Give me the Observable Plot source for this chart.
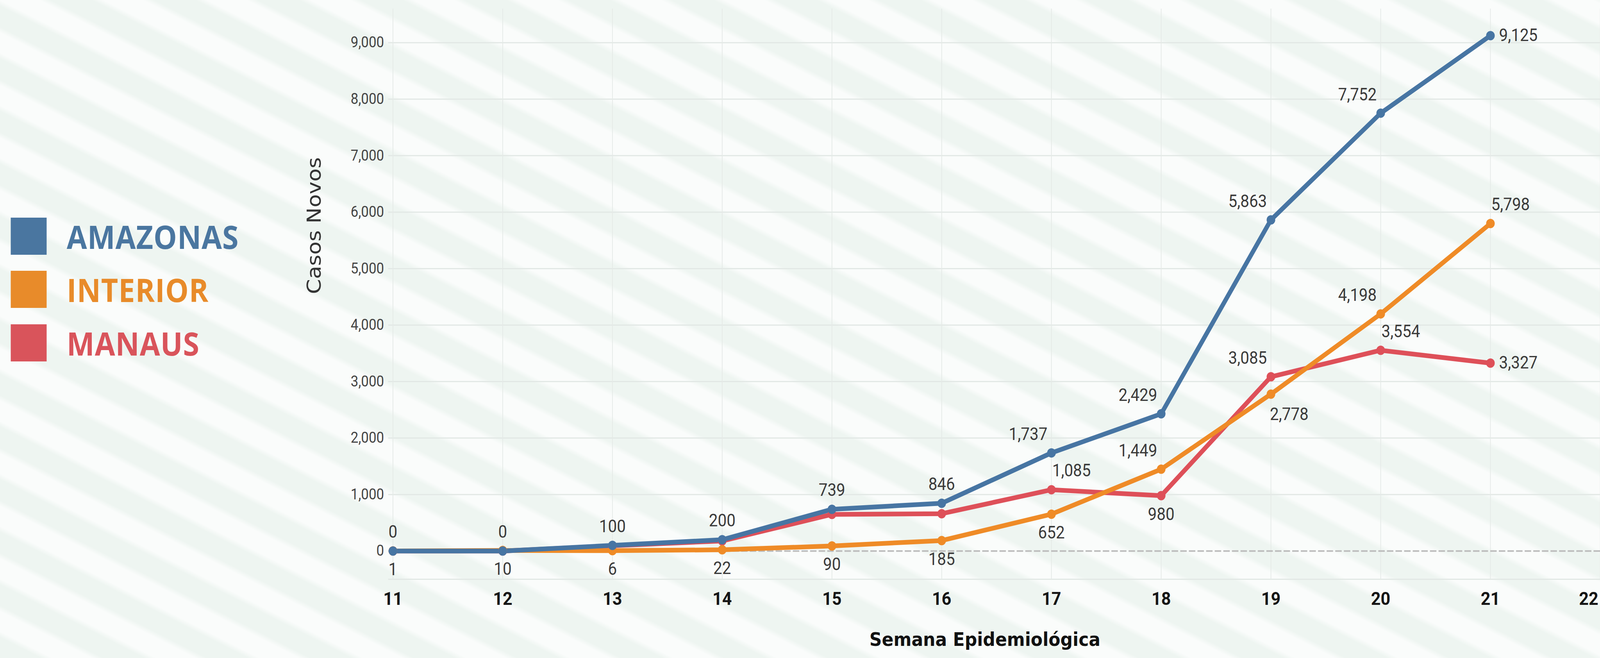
<!DOCTYPE html>
<html>
<head>
<meta charset="utf-8">
<script src="https://cdn.jsdelivr.net/npm/d3@7"></script>
<script src="https://cdn.jsdelivr.net/npm/@observablehq/plot@0.6"></script>
<style>
  html, body { margin: 0; padding: 0; overflow: hidden; background: #f4f8f6; }
  #stage {
    position: absolute; left: 0; top: 0;
    width: 4460px; height: 1684px; overflow: hidden;
    transform-origin: 0 0;
    background-color: #f4f8f6;
    background-image: repeating-linear-gradient(25deg,
      #eef5f1 0px, #eef5f1 48px,
      #fafcfb 62px, #fafcfb 108px,
      #eef5f1 122px);
  }
  #chart { position: absolute; left: 0; top: 0; }
  #chart svg { max-width: none; }
  .legend-row { position: absolute; left: 30px; display: flex; align-items: center; }
  .legend-swatch { width: 100px; height: 95px; }
  .legend-text { margin-left: 56px; font-family: "Open Sans", sans-serif; font-weight: 700; font-size: 82px; line-height: 82px; letter-spacing: 1px; }
</style>
</head>
<body>
<div id="stage">
  <div id="chart"></div>
  <div id="legend"></div>
</div>
<script>
// ---- data ----
const weeks = [11, 12, 13, 14, 15, 16, 17, 18, 19, 20, 21];
const amazonas = [0, 0, 100, 200, 739, 846, 1737, 2429, 5863, 7752, 9125];
const interior = [1, 10, 6, 22, 90, 185, 652, 1449, 2778, 4198, 5798];
const manaus = [0, 0, 94, 178, 649, 661, 1085, 980, 3085, 3554, 3327];
const seriesNames = ["AMAZONAS", "INTERIOR", "MANAUS"];
const yTicks = [0, 1000, 2000, 3000, 4000, 5000, 6000, 7000, 8000, 9000];
const xTicks = [11, 12, 13, 14, 15, 16, 17, 18, 19, 20, 21, 22];
const xTitle = "Semana Epidemiológica";
const yTitle = "Casos Novos";

// ---- styles / label placement (kept apart from data) ----
const seriesColors = ["#4775a3", "#ef8b27", "#de5059"];
const legendColors = ["#4a76a0", "#e88b2a", "#d9545b"];
const amazonasLabelPos = ["above","above","above","above","above","above","aboveLeft","aboveLeft","aboveLeft","aboveLeft","right"];
const interiorLabelPos = ["below","below","below","below","below","below","below","aboveLeft","belowRight","aboveLeft","aboveRight"];
const manausLabelPos = ["none","none","none","none","none","none","aboveRight","below","aboveLeft","aboveRight","right"];
const offsets = {
  above: {dx: 0, dy: -48, textAnchor: "middle"},
  below: {dx: 0, dy: 48, textAnchor: "middle"},
  aboveLeft: {dx: -65, dy: -47, textAnchor: "middle"},
  aboveRight: {dx: 56, dy: -48, textAnchor: "middle"},
  belowRight: {dx: 51, dy: 52, textAnchor: "middle"},
  right: {dx: 24, dy: 0, textAnchor: "start"}
};

// fit the 4460-wide design into the actual window
const stage = document.getElementById("stage");
const sx = window.innerWidth / 4460, sy = window.innerHeight / 1684;
stage.style.transform = `scale(${sx}, ${sy})`;

// build table (draw order: Manaus, Interior, Amazonas on top)
const rows = [];
const build = (name, vals, pos) => weeks.forEach((w, i) => rows.push({serie: name, week: w, value: vals[i], pos: pos[i]}));
build("MANAUS", manaus, manausLabelPos);
build("INTERIOR", interior, interiorLabelPos);
build("AMAZONAS", amazonas, amazonasLabelPos);

const fmt = d3.format(",");

const labelMarks = Object.entries(offsets).map(([key, o]) =>
  Plot.text(rows.filter(d => d.pos === key), {
    x: "week", y: "value", text: d => fmt(d.value),
    dx: o.dx, dy: o.dy, textAnchor: o.textAnchor,
    fontSize: 44, fill: "#3a3a3a", fontFamily: "Roboto"
  })
);

const xAxisStyle = {tickSize: 0, tickPadding: 32, fontSize: 47, fontWeight: "bold", fill: "#151515", label: null, tickFormat: d => String(d)};

const chart = Plot.plot({
  width: 4460,
  height: 1684,
  marginLeft: 1082,
  marginRight: 0,
  marginTop: 22,
  marginBottom: 202,
  x: {domain: [10.958, 22], axis: null},
  y: {domain: [-500, 9600], axis: null},
  color: {domain: seriesNames, range: seriesColors},
  style: {background: "transparent", fontFamily: "Roboto", overflow: "visible", maxWidth: "none"},
  marks: [
    Plot.ruleY([-500, ...yTicks.slice(1)], {stroke: "#e2e8e5", strokeWidth: 3}),
    Plot.ruleX(xTicks, {y1: -500, y2: 9600, stroke: "#e5eae7", strokeWidth: 2}),
    Plot.ruleY([0], {stroke: "#bcbcbc", strokeWidth: 4, strokeDasharray: "18,6"}),
    Plot.line(rows, {x: "week", y: "value", z: "serie", stroke: "serie", strokeWidth: 12, strokeLinejoin: "round", strokeLinecap: "round"}),
    Plot.dot(rows, {x: "week", y: "value", fill: "serie", r: 12}),
    ...labelMarks,
    Plot.axisY(yTicks, {tickSize: 0, tickPadding: 12, fontSize: 38, fill: "#444", tickFormat: fmt, label: null}),
    Plot.axisX(xTicks.filter(d => d < 22), xAxisStyle),
    Plot.axisX([22], {...xAxisStyle, textAnchor: "end", dx: -5}),
    Plot.text([yTitle], {text: d => d, frameAnchor: "left", dx: -206, rotate: -90, fontSize: 55, fontFamily: "DejaVu Sans", fill: "#333"}),
    Plot.text([xTitle], {text: d => d, frameAnchor: "bottom", dx: -26, dy: 170, fontSize: 48, fontWeight: "bold", fontFamily: "DejaVu Sans", fill: "#111"})
  ]
});
document.getElementById("chart").appendChild(chart);

// legend
const legendTops = [557, 693, 830];
const legend = document.getElementById("legend");
seriesNames.forEach((name, i) => {
  const row = document.createElement("div");
  row.className = "legend-row";
  row.style.top = legendTops[i] + "px";
  const sw = document.createElement("div");
  sw.className = "legend-swatch";
  sw.style.background = legendColors[i];
  const tx = document.createElement("div");
  tx.className = "legend-text";
  tx.style.color = legendColors[i];
  tx.textContent = name;
  row.appendChild(sw);
  row.appendChild(tx);
  legend.appendChild(row);
});
</script>
</body>
</html>
